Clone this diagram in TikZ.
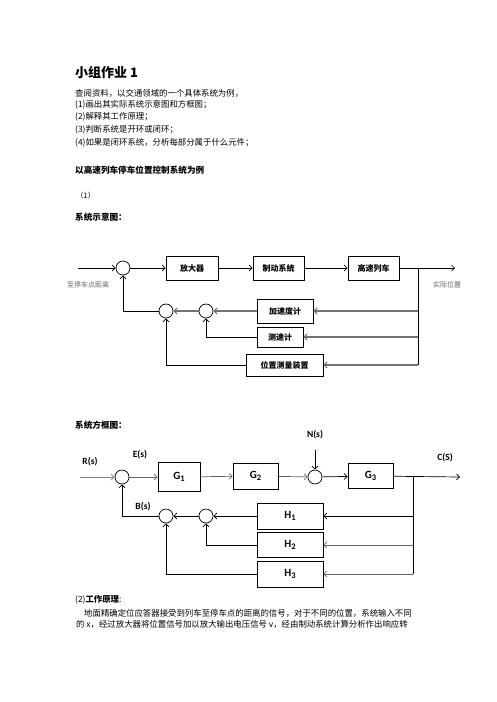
\documentclass[tikz,border=0pt]{standalone}
\usepackage{fontspec}
\setmainfont{Noto Sans CJK SC}
\newfontfamily\lat{Carlito}
\usetikzlibrary{arrows.meta}
\tikzstyle{block} = [rectangle, draw, line width=0.8pt, inner sep=0pt, text centered,
    font=\fontsize{8}{8}\selectfont\bfseries]
\tikzstyle{gblock} = [block, font=\fontsize{11}{11}\selectfont\lat\bfseries]
\tikzstyle{sum} = [circle, draw, line width=0.7pt, minimum size=14pt, inner sep=0pt]
\tikzstyle{line} = [draw, line width=0.7pt, -{Straight Barb[length=3pt,width=6pt]}]
\tikzstyle{gline} = [line, draw=black!55, line width=1.1pt]
\tikzstyle{txt} = [anchor=west, inner sep=0pt, font=\fontsize{8.4}{10}\selectfont]
\tikzstyle{btxt} = [txt, font=\fontsize{8.6}{10}\selectfont\bfseries]
\tikzstyle{small} = [inner sep=0pt, text=black!60, font=\fontsize{7}{8}\selectfont]
\tikzstyle{sig} = [inner sep=0pt, font=\fontsize{9.5}{10}\selectfont\lat\bfseries]
\newcommand{\gsub}[2]{\raisebox{-3pt}{#1\raisebox{-2pt}{\fontsize{8.5}{8.5}\selectfont #2}}}

\begin{document}
\begin{tikzpicture}[x=1pt,y=-1pt]
      \useasboundingbox (0,0) rectangle (496,702);
      \fill [white] (0,0) rectangle (496,702);

      % texto
      \node [txt, font=\fontsize{13}{13}\selectfont\bfseries] (titulo) at (75,73) {小组作业 1};
      \node [txt] (t1) at (75,93) {查阅资料，以交通领域的一个具体系统为例，};
      \node [txt] (t2) at (75,105) {(1)画出其实际系统示意图和方框图；};
      \node [txt] (t3) at (75,117) {(2)解释其工作原理；};
      \node [txt] (t4) at (75,130) {(3)判断系统是开环或闭环；};
      \node [txt] (t5) at (75,143) {(4)如果是闭环系统，分析每部分属于什么元件；};
      \node [btxt] (ejemplo) at (75,170) {以高速列车停车位置控制系统为例};
      \node [txt, font=\fontsize{7.5}{8}\selectfont] (p1) at (76,196) {（1）};
      \node [btxt] (shiyi) at (75,217) {系统示意图：};

      % diagrama 1
      \coordinate (in1) at (78,268);
      \node [sum] (s1) at (123,268) {};
      \node [block, minimum width=52pt, minimum height=24pt] (fangda) at (192,268) {放大器};
      \node [block, minimum width=51pt, minimum height=24pt] (zhidong) at (278.5,268) {制动系统};
      \node [block, minimum width=51pt, minimum height=24pt] (lieche) at (373.5,268) {高速列车};
      \coordinate (fen1) at (418,268);
      \coordinate (out1) at (455,268);
      \node [block, minimum width=56pt, minimum height=24pt] (jiasu) at (285,311) {加速度计};
      \node [block, minimum width=46pt, minimum height=20pt] (cesu) at (280,337) {测速计};
      \node [block, minimum width=77pt, minimum height=22pt] (weizhi) at (284.5,365) {位置测量装置};
      \node [sum] (s2) at (166,311) {};
      \node [sum] (s3) at (206,311) {};
      \node [small] (ljuli) at (88,285) {至停车点距离};
      \node [small] (lweizhi) at (447,285) {实际位置};

      \path [line] (in1) -- (s1);
      \path [line] (s1) -- (fangda);
      \path [line] (fangda) -- (zhidong);
      \path [line] (zhidong) -- (lieche);
      \path [line] (lieche) -- (out1);
      \draw [line width=0.7pt] (fen1) -- (fen1 |- weizhi);
      \path [gline] (fen1 |- jiasu) -- (jiasu);
      \path [gline] (fen1 |- cesu) -- (cesu);
      \path [gline] (fen1 |- weizhi) -- (weizhi);
      \path [gline] (jiasu) -- (s3);
      \path [gline] (s3) -- (s2);
      \path [line] (cesu) -| (s3);
      \path [line] (weizhi) -| (s2);
      \path [line] (s2) -| (s1);

      % diagrama 2
      \node [btxt] (fangkuang) at (75,425) {系统方框图：};
      \coordinate (in2) at (80,477);
      \node [sum] (e1) at (122,477) {};
      \node [gblock, minimum width=42pt, minimum height=29pt] (g1) at (179,477) {\gsub{G}{1}};
      \node [gblock, minimum width=45pt, minimum height=26pt] (g2) at (255.5,476) {\gsub{G}{2}};
      \node [sum] (n1) at (315,477) {};
      \node [gblock, minimum width=45pt, minimum height=25pt] (g3) at (370.5,476) {\gsub{G}{3}};
      \coordinate (fen2) at (413,477);
      \coordinate (out2) at (460,477);
      \coordinate (nin) at (315,450);
      \node [gblock, minimum width=66pt, minimum height=26pt] (h1) at (290,516) {\gsub{H}{1}};
      \node [gblock, minimum width=66pt, minimum height=25pt] (h2) at (290,545) {\gsub{H}{2}};
      \node [gblock, minimum width=66pt, minimum height=26pt] (h3) at (290,574) {\gsub{H}{3}};
      \node [sum] (e2) at (166,516) {};
      \node [sum] (e3) at (206,516) {};
      \node [sig] (rs) at (90,462) {R(s)};
      \node [sig] (es) at (140,455) {E(s)};
      \node [sig] (ns) at (315,435) {N(s)};
      \node [sig] (cs) at (445,458) {C(S)};
      \node [sig] (bs) at (143,507) {B(s)};

      \path [line, draw=black!50] (in2) -- (e1);
      \path [line, draw=black!60] (e1) -- (g1);
      \path [line, draw=black!60] (g1) -- (g2);
      \path [line, draw=black!60] (g2) -- (n1);
      \path [line] (nin) -- (n1);
      \path [line] (n1) -- (g3);
      \path [line] (g3) -- (out2);
      \draw [line width=0.7pt] (fen2) -- (fen2 |- h3);
      \path [line] (fen2 |- h1) -- (h1);
      \path [line, draw=black!60] (fen2 |- h2) -- (h2);
      \path [line, draw=black!60] (fen2 |- h3) -- (h3);
      \path [line] (h1) -- (e3);
      \path [line] (e3) -- (e2);
      \path [line] (h2) -| (e3);
      \path [line] (h3) -| (e2);
      \path [line] (e2) -| (e1);

      % principio
      \node [txt] (yuanli) at (75,600) {(2)\textbf{工作原理}:};
      \node [txt] (q1) at (84,613) {地面精确定位应答器接受到列车至停车点的距离的信号，对于不同的位置，系统输入不同};
      \node [txt] (q2) at (76,624) {的 x，经过放大器将位置信号加以放大输出电压信号 v，经由制动系统计算分析作出响应转};
\end{tikzpicture}
\end{document}
